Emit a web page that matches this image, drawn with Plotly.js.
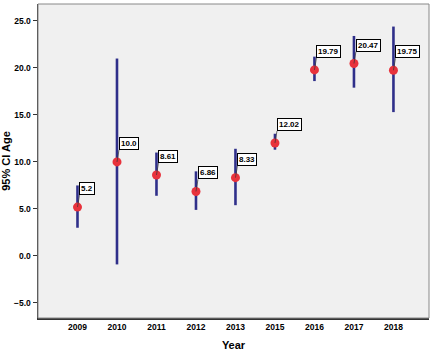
<!DOCTYPE html>
<html>
<head>
<meta charset="utf-8">
<script src="https://cdn.plot.ly/plotly-3.0.1.min.js"></script>
<style>
  html, body { margin: 0; padding: 0; background: #ffffff; }
  #chart { width: 436px; height: 354px; }
</style>
</head>
<body>
<div id="chart"></div>
<script>
// Mean age per year with its 95% confidence interval
const years = ['2009', '2010', '2011', '2012', '2013', '2015', '2016', '2017', '2018'];
const meanAge = [5.2, 10.0, 8.61, 6.86, 8.33, 12.02, 19.79, 20.47, 19.75];
const ciLower = [3.0, -0.9, 6.4, 4.9, 5.4, 11.3, 18.6, 17.9, 15.3];
const ciUpper = [7.5, 21.0, 11.0, 9.0, 11.4, 13.0, 21.2, 23.4, 24.4];
const meanLabels = ['5.2', '10.0', '8.61', '6.86', '8.33', '12.02', '19.79', '20.47', '19.75'];

const errPlus = ciUpper.map((u, i) => u - meanAge[i]);
const errMinus = ciLower.map((l, i) => meanAge[i] - l);

const font = 'Liberation Sans, Arial, sans-serif';

const trace = {
  type: 'scatter',
  mode: 'markers',
  x: years,
  y: meanAge,
  marker: { color: '#e8323c', size: 9, line: { width: 0 } },
  error_y: {
    type: 'data',
    symmetric: false,
    array: errPlus,
    arrayminus: errMinus,
    color: '#2f2f8a',
    thickness: 2.6,
    width: 0
  },
  hoverinfo: 'x+y'
};

// Boxed value callouts above-right of each mean. On a category axis whose
// names look numeric, annotation x must be the category index.
const annotations = years.map((yr, i) => ({
  x: i,
  y: meanAge[i],
  xref: 'x',
  yref: 'y',
  text: '<b>' + meanLabels[i] + '</b>',
  font: { family: font, size: 8, color: '#000000' },
  bgcolor: '#ffffff',
  bordercolor: '#000000',
  borderwidth: 1,
  borderpad: 1,
  showarrow: true,
  arrowhead: 0,
  arrowwidth: 0.7,
  arrowcolor: '#333333',
  ax: 2,
  ay: -12,
  xanchor: 'left',
  yanchor: 'bottom'
}));

const layout = {
  width: 436,
  height: 354,
  margin: { l: 38, r: 7, t: 4, b: 36 },
  paper_bgcolor: '#ffffff',
  plot_bgcolor: '#f0f0f0',
  showlegend: false,
  font: { family: font, size: 8, color: '#000000' },
  xaxis: {
    type: 'category',
    range: [-1, 8.9],
    showgrid: false,
    zeroline: false,
    showline: true,
    linecolor: '#333333',
    linewidth: 1.5,
    ticks: '',
    tickfont: { family: font, size: 8.5, color: '#000000', weight: 'bold' },
    title: { text: '<b>Year</b>', font: { family: font, size: 11, color: '#000000' }, standoff: 10 }
  },
  yaxis: {
    range: [-6.6, 26.8],
    tickvals: [-5, 0, 5, 10, 15, 20, 25],
    tickformat: '.1f',
    showgrid: false,
    zeroline: false,
    showline: true,
    linecolor: '#333333',
    linewidth: 1.5,
    ticks: 'outside',
    ticklen: 4,
    tickcolor: '#333333',
    tickfont: { family: font, size: 8.5, color: '#000000', weight: 'bold' },
    title: { text: '<b>95% CI Age</b>', font: { family: font, size: 11, color: '#000000' }, standoff: 3 }
  },
  shapes: [{
    type: 'rect', xref: 'paper', yref: 'paper',
    x0: 0, x1: 1, y0: 0, y1: 1,
    line: { color: '#888888', width: 1 },
    fillcolor: 'rgba(0,0,0,0)',
    layer: 'above'
  }],
  annotations: annotations
};

Plotly.newPlot('chart', [trace], layout, { displayModeBar: false, staticPlot: true });
</script>
</body>
</html>
